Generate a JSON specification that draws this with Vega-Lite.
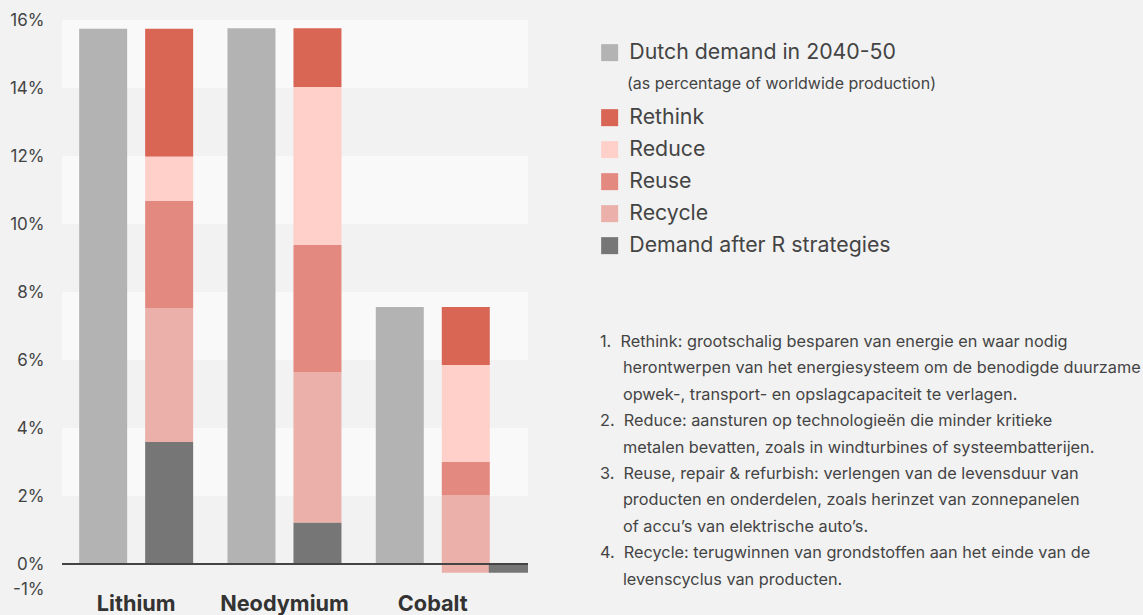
{
  "$schema": "https://vega.github.io/schema/vega-lite/v6.json",
  "autosize": {"type": "none"},
  "width": 466,
  "height": 578,
  "padding": {"left": 62, "top": 20, "right": 615, "bottom": 17},
  "background": "#f2f2f2",
  "config": {"view": {"stroke": null}, "font": "Inter"},
  "title": {
    "text": [
      "1.\u00a0\u00a0Rethink: grootschalig besparen van energie en waar nodig",
      "\u200b\u00a0\u00a0\u00a0\u00a0\u00a0herontwerpen van het energiesysteem om de benodigde duurzame",
      "\u200b\u00a0\u00a0\u00a0\u00a0\u00a0opwek-, transport- en opslagcapaciteit te verlagen.",
      "2.\u00a0\u00a0Reduce: aansturen op technologieën die minder kritieke",
      "\u200b\u00a0\u00a0\u00a0\u00a0\u00a0metalen bevatten, zoals in windturbines of systeembatterijen.",
      "3.\u00a0\u00a0Reuse, repair & refurbish: verlengen van de levensduur van",
      "\u200b\u00a0\u00a0\u00a0\u00a0\u00a0producten en onderdelen, zoals herinzet van zonnepanelen",
      "\u200b\u00a0\u00a0\u00a0\u00a0\u00a0of accu’s van elektrische auto’s.",
      "4.\u00a0\u00a0Recycle: terugwinnen van grondstoffen aan het einde van de",
      "\u200b\u00a0\u00a0\u00a0\u00a0\u00a0levenscyclus van producten."
    ],
    "orient": "top",
    "anchor": "start",
    "frame": "group",
    "fontSize": 16.3,
    "fontWeight": "normal",
    "color": "#444",
    "lineHeight": 26.4,
    "baseline": "top",
    "offset": 0,
    "dx": 538,
    "dy": 577
  },
  "datasets": {
    "bands": [
      {"from": 14, "to": 16},
      {"from": 10, "to": 12},
      {"from": 6, "to": 8},
      {"from": 2, "to": 4}
    ],
    "zero": [{"value": 0}],
    "demand": [
      {"material": "Lithium", "series": "Dutch demand in 2040-50", "value": 15.74},
      {"material": "Neodymium", "series": "Dutch demand in 2040-50", "value": 15.76},
      {"material": "Cobalt", "series": "Dutch demand in 2040-50", "value": 7.56}
    ],
    "parts": [
      {"material": "Lithium", "series": "R strategies", "part": "Rethink", "from": 11.98, "to": 15.74},
      {"material": "Lithium", "series": "R strategies", "part": "Reduce", "from": 10.68, "to": 11.98},
      {"material": "Lithium", "series": "R strategies", "part": "Reuse", "from": 7.53, "to": 10.68},
      {"material": "Lithium", "series": "R strategies", "part": "Recycle", "from": 3.59, "to": 7.53},
      {"material": "Lithium", "series": "R strategies", "part": "Demand after R strategies", "from": 0, "to": 3.59},
      {"material": "Neodymium", "series": "R strategies", "part": "Rethink", "from": 14.03, "to": 15.76},
      {"material": "Neodymium", "series": "R strategies", "part": "Reduce", "from": 9.38, "to": 14.03},
      {"material": "Neodymium", "series": "R strategies", "part": "Reuse", "from": 5.65, "to": 9.38},
      {"material": "Neodymium", "series": "R strategies", "part": "Recycle", "from": 1.21, "to": 5.65},
      {"material": "Neodymium", "series": "R strategies", "part": "Demand after R strategies", "from": 0, "to": 1.21},
      {"material": "Cobalt", "series": "R strategies", "part": "Rethink", "from": 5.85, "to": 7.56},
      {"material": "Cobalt", "series": "R strategies", "part": "Reduce", "from": 3.0, "to": 5.85},
      {"material": "Cobalt", "series": "R strategies", "part": "Reuse", "from": 2.03, "to": 3.0},
      {"material": "Cobalt", "series": "R strategies", "part": "Recycle", "from": -0.26, "to": 2.03},
      {"material": "Cobalt", "series": "R strategies", "part": "Demand after R strategies", "from": 0, "to": -0.26}
    ]
  },
  "layer": [
    {
      "data": {"name": "bands"},
      "mark": {"type": "rect", "color": "#f9f9f9"},
      "encoding": {
        "y": {
          "field": "from", "type": "quantitative",
          "scale": {"domain": [-1, 16], "nice": false, "zero": false},
          "axis": {
            "values": [-1, 0, 2, 4, 6, 8, 10, 12, 14, 16],
            "labelExpr": "datum.value + '%'",
            "grid": false, "domain": false, "ticks": false, "title": null,
            "labelFontSize": 17, "labelColor": "#444", "labelPadding": 18,
            "labelBaseline": {"condition": {"test": "datum.value < 0", "value": "bottom"}, "value": "middle"}
          }
        },
        "y2": {"field": "to"}
      }
    },
    {
      "data": {"name": "demand"},
      "mark": {"type": "bar"},
      "encoding": {
        "x": {
          "field": "material", "type": "nominal", "sort": ["Lithium", "Neodymium", "Cobalt"],
          "scale": {"domain": ["Lithium", "Neodymium", "Cobalt"], "paddingInner": 0, "paddingOuter": 0.071, "align": 0},
          "axis": {"title": null, "ticks": false, "domain": false, "labelFontSize": 21.7, "labelFontWeight": "bold", "labelColor": "#333", "labelPadding": 12, "labelBaseline": "alphabetic", "labelAngle": 0}
        },
        "xOffset": {
          "field": "series", "type": "nominal",
          "scale": {"domain": ["Dutch demand in 2040-50", "R strategies"], "paddingInner": 0.2727, "paddingOuter": 0.26}
        },
        "y": {
          "field": "value", "type": "quantitative",
          "axis": {
            "values": [-1, 0, 2, 4, 6, 8, 10, 12, 14, 16],
            "labelExpr": "datum.value + '%'",
            "grid": false, "domain": false, "ticks": false, "title": null,
            "labelFontSize": 17, "labelColor": "#444", "labelPadding": 18,
            "labelBaseline": {"condition": {"test": "datum.value < 0", "value": "bottom"}, "value": "middle"}
          }
        },
        "color": {
          "field": "series", "type": "nominal",
          "scale": {"domain": ["Dutch demand in 2040-50"], "range": ["#b3b3b3"]},
          "legend": {
            "orient": "none", "legendX": 537, "legendY": 22, "title": null, "padding": 0,
            "symbolType": "square", "symbolSize": 289, "symbolStrokeWidth": 0,
            "labelFontSize": 21.3, "labelColor": "#444", "labelOffset": 9, "labelLimit": 500
          }
        }
      }
    },
    {
      "data": {"name": "parts"},
      "transform": [{"filter": "!(datum.material == 'Cobalt' && datum.part == 'Demand after R strategies')"}],
      "mark": {"type": "bar"},
      "encoding": {
        "x": {"field": "material", "type": "nominal"},
        "xOffset": {"field": "series", "type": "nominal"},
        "y": {
          "field": "from", "type": "quantitative",
          "axis": {
            "values": [-1, 0, 2, 4, 6, 8, 10, 12, 14, 16],
            "labelExpr": "datum.value + '%'",
            "grid": false, "domain": false, "ticks": false, "title": null,
            "labelFontSize": 17, "labelColor": "#444", "labelPadding": 18,
            "labelBaseline": {"condition": {"test": "datum.value < 0", "value": "bottom"}, "value": "middle"}
          }
        },
        "y2": {"field": "to"},
        "color": {
          "field": "part", "type": "nominal",
          "scale": {
            "domain": ["Rethink", "Reduce", "Reuse", "Recycle", "Demand after R strategies"],
            "range": ["#d96555", "#ffcfc9", "#e3897f", "#ebb0aa", "#767676"]
          },
          "legend": {
            "orient": "none", "legendX": 537, "legendY": 56, "padding": 0,
            "title": "(as percentage of worldwide production)",
            "titleFontSize": 16, "titleFontWeight": "normal", "titleColor": "#444", "titlePadding": 15, "titleLimit": 600,
            "symbolType": "square", "symbolSize": 289, "symbolStrokeWidth": 0,
            "labelFontSize": 21.3, "labelColor": "#444", "labelOffset": 9, "labelLimit": 500, "rowPadding": 10,
            "encode": {"title": {"update": {"dx": {"value": 28}}}}
          }
        }
      }
    },
    {
      "data": {"name": "parts"},
      "transform": [{"filter": "datum.material == 'Cobalt' && datum.part == 'Demand after R strategies'"}],
      "mark": {"type": "bar", "width": 48, "xOffset": 80, "clip": true, "color": "#767676"},
      "encoding": {
        "x": {"field": "material", "type": "nominal"},
        "y": {
          "field": "from", "type": "quantitative",
          "axis": {
            "values": [-1, 0, 2, 4, 6, 8, 10, 12, 14, 16],
            "labelExpr": "datum.value + '%'",
            "grid": false, "domain": false, "ticks": false, "title": null,
            "labelFontSize": 17, "labelColor": "#444", "labelPadding": 18,
            "labelBaseline": {"condition": {"test": "datum.value < 0", "value": "bottom"}, "value": "middle"}
          }
        },
        "y2": {"field": "to"}
      }
    },
    {
      "data": {"name": "zero"},
      "mark": {"type": "rule", "color": "#444", "strokeWidth": 2},
      "encoding": {
        "y": {
          "field": "value", "type": "quantitative",
          "axis": {
            "values": [-1, 0, 2, 4, 6, 8, 10, 12, 14, 16],
            "labelExpr": "datum.value + '%'",
            "grid": false, "domain": false, "ticks": false, "title": null,
            "labelFontSize": 17, "labelColor": "#444", "labelPadding": 18,
            "labelBaseline": {"condition": {"test": "datum.value < 0", "value": "bottom"}, "value": "middle"}
          }
        }
      }
    }
  ],
  "resolve": {"scale": {"color": "independent"}}
}
